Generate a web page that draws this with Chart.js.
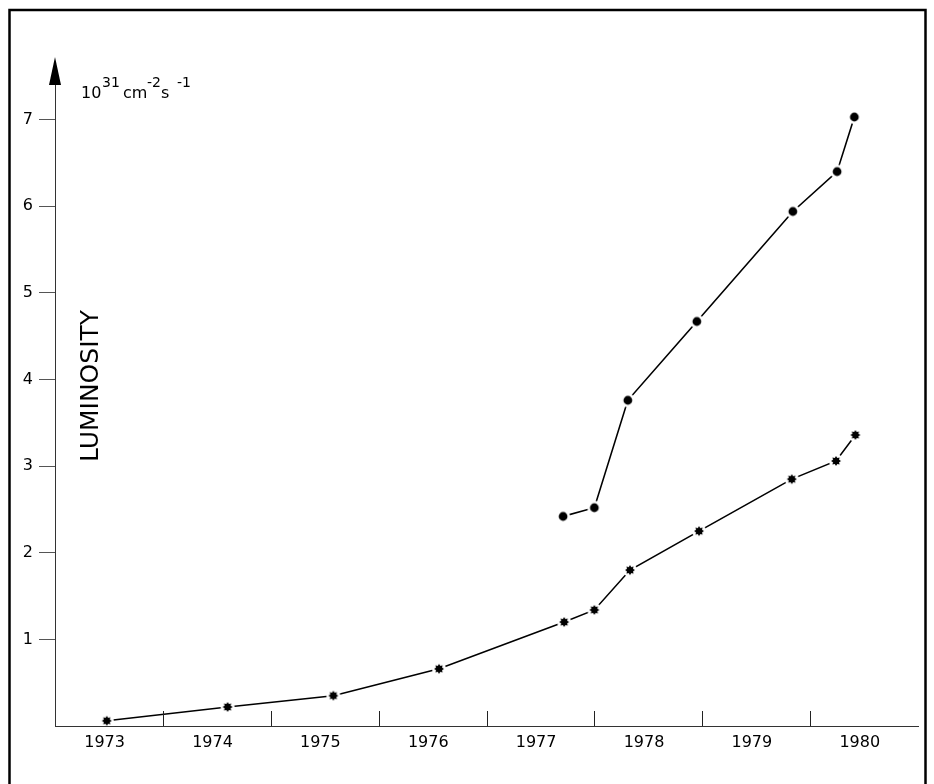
<!DOCTYPE html>
<html>
<head>
<meta charset="utf-8">
<script src="https://cdn.jsdelivr.net/npm/chart.js@4/dist/chart.umd.min.js"></script>
<style>
  body { margin: 0; background: #fff; }
  #wrap { width: 934px; height: 784px; }
</style>
</head>
<body>
<div id="wrap"><canvas id="lumChart" width="934" height="784"></canvas></div>
<script>
// fractional years (position within the year) and luminosity in 10^31 cm-2 s-1
const lowerYears = [1973.48, 1974.60, 1975.58, 1976.56, 1977.72, 1978.00, 1978.33, 1978.97, 1979.83, 1980.24, 1980.42];
const lowerLum = [0.06, 0.22, 0.35, 0.66, 1.20, 1.34, 1.80, 2.25, 2.85, 3.06, 3.36];
const upperYears = [1977.71, 1978.00, 1978.31, 1978.95, 1979.84, 1980.25, 1980.41];
const upperLum = [2.42, 2.52, 3.76, 4.67, 5.94, 6.40, 7.03];

const yearLabels = ["1973", "1974", "1975", "1976", "1977", "1978", "1979", "1980"];
const yearBounds = [1974, 1975, 1976, 1977, 1978, 1979, 1980];
const yTicks = [1, 2, 3, 4, 5, 6, 7];

const FONT = "DejaVu Sans";

// marker images with a white halo so the line stops short of the point
function makeMarker(kind) {
  const c = document.createElement("canvas");
  c.width = 18;
  c.height = 18;
  const g = c.getContext("2d");
  g.fillStyle = "#fff";
  g.beginPath();
  g.arc(9, 9, 7, 0, Math.PI * 2);
  g.fill();
  g.fillStyle = "#000";
  g.beginPath();
  if (kind === "dot") {
    g.arc(9, 9, 4.4, 0, Math.PI * 2);
  } else {
    const spikes = 8;
    for (let i = 0; i < spikes * 2; i++) {
      const r = i % 2 === 0 ? 5 : 3.3;
      const a = (i * Math.PI) / spikes - Math.PI / 2;
      const px = 9 + r * Math.cos(a);
      const py = 9 + r * Math.sin(a);
      if (i === 0) g.moveTo(px, py);
      else g.lineTo(px, py);
    }
    g.closePath();
  }
  g.fill();
  return c;
}

const lowerPoints = lowerYears.map((x, i) => ({ x: x, y: lowerLum[i] }));
const upperPoints = upperYears.map((x, i) => ({ x: x, y: upperLum[i] }));

const decorations = {
  id: "decorations",
  beforeDraw(chart) {
    const ctx = chart.ctx;
    ctx.save();
    ctx.fillStyle = "#fff";
    ctx.fillRect(0, 0, chart.width, chart.height);
    ctx.strokeStyle = "#000";
    ctx.lineWidth = 2.5;
    ctx.strokeRect(9.5, 10, 916, 800);
    ctx.restore();
  },
  afterDraw(chart) {
    const ctx = chart.ctx;
    const area = chart.chartArea;
    const x = chart.scales.x;
    ctx.save();

    // year boundary ticks, pointing up into the plot
    ctx.strokeStyle = "#222";
    ctx.lineWidth = 1;
    yearBounds.forEach((yr) => {
      const px = Math.round(x.getPixelForValue(yr)) + 0.5;
      ctx.beginPath();
      ctx.moveTo(px, area.bottom);
      ctx.lineTo(px, area.bottom - 15);
      ctx.stroke();
    });

    // arrow head on the y axis
    const ax = area.left;
    ctx.fillStyle = "#000";
    ctx.beginPath();
    ctx.moveTo(ax, area.top - 28);
    ctx.lineTo(ax - 6, area.top);
    ctx.lineTo(ax + 6, area.top);
    ctx.closePath();
    ctx.fill();

    // unit label 10^31 cm^-2 s^-1
    ctx.fillStyle = "#000";
    ctx.textBaseline = "alphabetic";
    ctx.textAlign = "left";
    const big = "16px '" + FONT + "'";
    const small = "14px '" + FONT + "'";
    const base = 98, sup = 87;
    ctx.font = big;
    ctx.fillText("10", 81, base);
    ctx.font = small;
    ctx.fillText("31", 102, sup);
    ctx.font = big;
    ctx.fillText("cm", 123, base);
    ctx.font = small;
    ctx.fillText("-2", 147, sup);
    ctx.font = big;
    ctx.fillText("s", 161, base);
    ctx.font = small;
    ctx.fillText("-1", 177, sup);

    // rotated axis title
    ctx.translate(91, 386);
    ctx.rotate(-Math.PI / 2);
    ctx.font = "25px '" + FONT + "'";
    ctx.textAlign = "center";
    ctx.textBaseline = "middle";
    ctx.fillText("LUMINOSITY", 0, 0);
    ctx.restore();
  }
};

const ctx = document.getElementById("lumChart").getContext("2d");
const lumChart = new Chart(ctx, {
  type: "line",
  data: {
    datasets: [
      {
        label: "upper",
        data: upperPoints,
        borderColor: "#000",
        borderWidth: 1.6,
        tension: 0,
        pointStyle: makeMarker("dot"),
      },
      {
        label: "lower",
        data: lowerPoints,
        borderColor: "#000",
        borderWidth: 1.6,
        tension: 0,
        pointStyle: makeMarker("star"),
      },
    ],
  },
  options: {
    responsive: false,
    animation: false,
    layout: { padding: { top: 85, left: 14, right: 16, bottom: 18 } },
    plugins: {
      legend: { display: false },
      tooltip: { enabled: false },
    },
    scales: {
      x: {
        type: "linear",
        min: 1973,
        max: 1981,
        afterBuildTicks: (scale) => {
          scale.ticks = yearLabels.map((l) => ({ value: Number(l) + 0.46 }));
        },
        afterFit: (scale) => { scale.height = 40; },
        ticks: {
          color: "#000",
          font: { family: FONT, size: 16 },
          padding: 7,
          maxRotation: 0,
          autoSkip: false,
          callback: (v, i) => yearLabels[i],
        },
        grid: { display: false, drawTicks: false },
        border: { display: true, color: "#333", width: 1 },
      },
      y: {
        min: 0,
        max: 7.4,
        afterBuildTicks: (scale) => {
          scale.ticks = yTicks.map((v) => ({ value: v }));
        },
        afterFit: (scale) => { scale.width = 41; },
        ticks: {
          color: "#000",
          font: { family: FONT, size: 16 },
          padding: 6,
          callback: (v) => String(v),
        },
        grid: {
          drawOnChartArea: false,
          drawTicks: true,
          tickLength: 16,
          color: "#555",
          lineWidth: 1,
        },
        border: { display: true, color: "#333", width: 1 },
      },
    },
  },
  plugins: [decorations],
});
</script>
</body>
</html>
